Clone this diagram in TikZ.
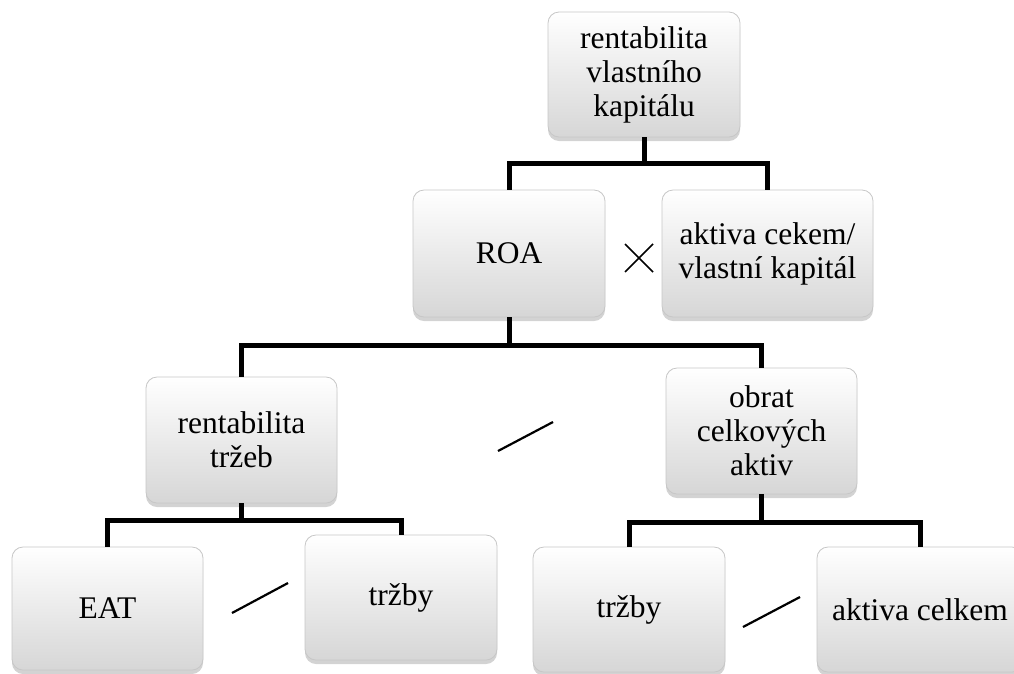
\documentclass[tikz,border=0pt]{standalone}
\usepackage{fontspec}
\setmainfont{Liberation Serif}
\usetikzlibrary{shadows,calc}
\begin{document}
\begin{tikzpicture}[x=1pt,y=-1pt,
  box/.style={rectangle, rounded corners=11pt, draw=black!22, line width=0.8pt,
    top color=white, bottom color=black!16, align=center,
    font=\fontsize{31.5}{34}\selectfont, inner sep=2pt,
    drop shadow={opacity=0.35, shadow xshift=0pt, shadow yshift=-4pt}},
  conn/.style={line width=5pt, line cap=butt, line join=miter},
  op/.style={line width=2.2pt, line cap=butt}]
\useasboundingbox (0,0) rectangle (1014,673);
\clip (0,0) rectangle (1014,673);
% boxes
\node[box, minimum width=192pt, minimum height=125pt] (top) at (644,74.5) {rentabilita\\vlastního\\kapitálu};
\node[box, minimum width=192pt, minimum height=127pt] (roa) at (509,253.5) {ROA};
\node[box, minimum width=211pt, minimum height=127pt] (ak) at (767.5,253.5) {aktiva cekem/\\vlastní kapitál};
\node[box, minimum width=191pt, minimum height=126pt] (rt) at (241.5,440) {rentabilita\\tržeb};
\node[box, minimum width=191pt, minimum height=126pt] (ob) at (761.5,431) {obrat\\celkových\\aktiv};
\node[box, minimum width=191pt, minimum height=123pt] (eat) at (107.5,608.5) {EAT};
\node[box, minimum width=192pt, minimum height=125pt] (trz1) at (401,597.5) {tržby};
\node[box, minimum width=192pt, minimum height=125pt] (trz2) at (629,609.5) {tržby};
\node[box, minimum width=206pt, minimum height=125pt] (akc) at (920,609.5) {aktiva celkem};
% connectors
\draw[conn] (top.south) -- ++(0,26) -| (roa.north);
\draw[conn] (top.south) ++(0,26) -| (ak.north);
\draw[conn] (roa.south) -- ++(0,28) -| (rt.north);
\draw[conn] (roa.south) ++(0,28) -| (ob.north);
\draw[conn] (rt.south) -- ++(0,17) -| (eat.north);
\draw[conn] (rt.south) ++(0,17) -| (trz1.north);
\draw[conn] (ob.south) -- ++(0,28) -| (trz2.north);
\draw[conn] (ob.south) ++(0,28) -| (akc.north);
% operators
\coordinate (x1) at (625,244); \coordinate (x2) at (653,272);
\coordinate (x3) at (625,272); \coordinate (x4) at (653,244);
\draw[line width=1.6pt] (x1) -- (x2) (x3) -- (x4);
\coordinate (s1a) at (498,451); \coordinate (s1b) at (553,422);
\draw[op] (s1a) -- (s1b);
\coordinate (s2a) at (232,613); \coordinate (s2b) at (288,583);
\draw[op] (s2a) -- (s2b);
\coordinate (s3a) at (743,627); \coordinate (s3b) at (800,597);
\draw[op] (s3a) -- (s3b);
\end{tikzpicture}
\end{document}
